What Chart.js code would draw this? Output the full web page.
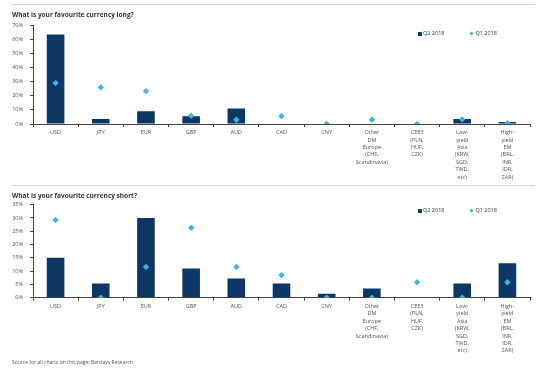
<!DOCTYPE html>
<html>
<head>
<meta charset="utf-8">
<script src="https://cdn.jsdelivr.net/npm/chart.js@4/dist/chart.umd.min.js"></script>
<style>
  html, body { margin: 0; padding: 0; background: #fff; }
  body { width: 550px; height: 371px; position: relative; overflow: hidden; font-family: "Open Sans", sans-serif; }
  .sep { position: absolute; left: 12px; width: 523px; height: 1px; background: #d4d4d4; }
  .wrap { position: absolute; left: 0; width: 550px; }
  .legend { position: absolute; font-size: 5.5px; color: #333; white-space: nowrap; line-height: 8px; }
  .legend span.mk { display: inline-block; vertical-align: middle; margin-right: 1px; }
  .source { position: absolute; left: 12px; top: 359px; font-size: 5px; color: #555; }
</style>
</head>
<body>
<div class="sep" style="top:4px"></div>
<div class="wrap" style="top:0;height:185px"><canvas id="c1"></canvas></div>
<div class="sep" style="top:185px"></div>
<div class="wrap" style="top:187px;height:184px"><canvas id="c2"></canvas></div>
<div class="legend" id="lg1" style="top:29px;left:418px"></div>
<div class="legend" id="lg2" style="top:206px;left:418px"></div>
<div class="source">Source for all charts on this page: Barclays Research</div>
<script>
const categories = ["USD", "JPY", "EUR", "GBP", "AUD", "CAD", "CNY",
  ["Other", "DM", "Europe", "(CHF,", "Scandinavia)"],
  ["CEE3", "(PLN,", "HUF,", "CZK)"],
  ["Low-", "yield", "Asia", "(KRW,", "SGD,", "TWD,", "etc)"],
  ["High-", "yield", "EM", "(BRL,", "INR,", "IDR,", "ZAR)"]];
const seriesNames = ["Q2 2018", "Q1 2018"];
const longQ2 = [63.5, 3.5, 9, 5.5, 11, 0, 0, 0, 0, 3.5, 1.5];
const longQ1 = [29, 26, 23.3, 5.8, 3, 5.5, 0, 3, 0, 3.3, 0.5];
const shortQ2 = [15, 5.3, 30, 11, 7.2, 5.3, 1.5, 3.5, 0, 5.3, 13];
const shortQ1 = [29.2, 0, 11.6, 26.3, 11.6, 8.5, 0, 0, 5.8, 0, 5.8];
const longTicks = [0, 10, 20, 30, 40, 50, 60, 70];
const shortTicks = [0, 5, 10, 15, 20, 25, 30, 35];
const titles = ["What is your favourite currency long?", "What is your favourite currency short?"];

const BAR = "#0d3764";
const DIA = "#3fb4e2";
const FONT = "'Open Sans', sans-serif";

function makeChart(id, q2, q1, ticks, title, cfg) {
  const ctx = document.getElementById(id);
  return new Chart(ctx, {
    data: {
      labels: categories,
      datasets: [
        { type: 'line', label: seriesNames[1], data: q1, showLine: false,
          pointStyle: 'rectRot', pointRadius: 3.2, pointHoverRadius: 3.2,
          backgroundColor: DIA, borderColor: DIA, borderWidth: 0 },
        { type: 'bar', label: seriesNames[0], data: q2, backgroundColor: BAR,
          barPercentage: 0.39, categoryPercentage: 1.0 }
      ]
    },
    options: {
      responsive: true, maintainAspectRatio: false, animation: false,
      layout: { padding: { left: 12, right: 20, top: 0, bottom: 0 } },
      plugins: {
        legend: { display: false },
        tooltip: { enabled: false },
        title: { display: true, text: title, align: 'start', color: '#333',
          font: { family: FONT, size: 6.5, weight: 'bold', lineHeight: 1.2 },
          padding: cfg.titlePad }
      },
      scales: {
        x: {
          offset: true,
          grid: { display: true, drawOnChartArea: false, offset: true, tickLength: 3, color: '#444', tickColor: '#444' },
          border: { display: true, color: '#444', width: 1 },
          ticks: { autoSkip: false, maxRotation: 0, minRotation: 0, padding: 2, color: '#555',
            font: { family: FONT, size: 5.5, lineHeight: 1.345 } },
          afterFit: (s) => { s.height = cfg.xh; }
        },
        y: {
          min: ticks[0], max: ticks[ticks.length - 1],
          afterBuildTicks: (s) => { s.ticks = ticks.map(v => ({ value: v })); },
          grid: { display: true, drawOnChartArea: false, tickLength: 3, color: '#444', tickColor: '#444' },
          border: { display: true, color: '#444', width: 1 },
          ticks: { padding: 7, color: '#555', font: { family: FONT, size: 5.5 },
            callback: (v) => v + '%' },
          afterFit: (s) => { s.width = 21; }
        }
      }
    }
  });
}

const c1 = makeChart('c1', longQ2, longQ1, longTicks, titles[0], { titlePad: { top: 11.1, bottom: 6.4 }, xh: 61 });
const c2 = makeChart('c2', shortQ2, shortQ1, shortTicks, titles[1], { titlePad: { top: 4.8, bottom: 5.1 }, xh: 73.3 });

function buildLegend(elId, chart) {
  const el = document.getElementById(elId);
  const ds = chart.data.datasets;
  const bar = ds[1], dia = ds[0];
  el.innerHTML =
    '<span class="mk" style="width:4px;height:4px;background:' + bar.backgroundColor + '"></span>' +
    '<span>' + bar.label + '</span>' +
    '<span style="display:inline-block;width:26px"></span>' +
    '<span class="mk" style="width:3px;height:3px;background:' + dia.backgroundColor + ';transform:rotate(45deg);margin-right:2px"></span>' +
    '<span>' + dia.label + '</span>';
}
buildLegend('lg1', c1);
buildLegend('lg2', c2);
</script>
</body>
</html>
